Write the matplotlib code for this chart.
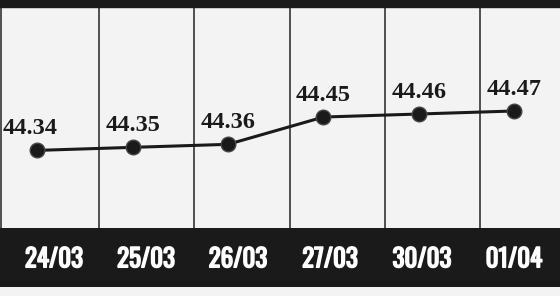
import matplotlib.pyplot as plt
import matplotlib.font_manager as fm
import matplotlib.patheffects as pe
from matplotlib.patches import Rectangle

dates = ['24/03', '25/03', '26/03', '27/03', '30/03', '01/04']
prices = [44.34, 44.35, 44.36, 44.45, 44.46, 44.47]

dark = '#1a1a1a'
panel = '#f3f3f3'


def pick(cands, weight='bold'):
    for c in cands:
        try:
            fm.findfont(fm.FontProperties(family=c, weight=weight), fallback_to_default=False)
            return c
        except ValueError:
            continue
    return 'DejaVu Sans'


serif = pick(['Liberation Serif', 'Tinos', 'Times New Roman', 'TeX Gyre Termes',
              'Nimbus Roman', 'Noto Serif', 'DejaVu Serif'])
narrow = pick(['Oswald', 'Roboto Condensed', 'DejaVu Sans'], weight='normal')

fig = plt.figure(figsize=(5.6, 2.96), dpi=100)
fig.patch.set_facecolor(panel)

# top strip and bottom date band
fig.patches.append(Rectangle((0, 289 / 296), 1, 7 / 296, transform=fig.transFigure,
                             color=dark, zorder=0))
band = fig.add_axes([0, 9 / 296, 1, 59 / 296])
band.set_xlim(-0.587, 5.5)
band.set_ylim(0, 1)
band.axis('off')
band.add_patch(Rectangle((-0.587, 0), 6.087, 1, color=dark))

ax = fig.add_axes([0, 68 / 296, 1, 221 / 296])
ax.set_facecolor(panel)
x = list(range(len(dates)))
ax.set_xlim(-0.39, 5.48)
ax.set_ylim(44.084, 44.813)

for i in x[:-1]:
    ax.axvline(i + 0.645, color='#333333', lw=1.2, zorder=1)
ax.axvline(-0.375, color='#333333', lw=1.2, zorder=1)

ax.plot(x, prices, color=dark, lw=2.2, marker='o', markersize=10.5,
        markerfacecolor=dark, markeredgecolor='#444444', markeredgewidth=1, zorder=3)

for i, v in enumerate(prices):
    dx = -5 if i == 0 else 0
    ax.annotate(f'{v:.2f}', (i, v), xytext=(dx, 8), textcoords='offset points',
                ha='center', va='bottom', fontsize=17.5, fontweight='bold',
                family=serif, color=dark, zorder=4)

for s in ax.spines.values():
    s.set_visible(False)
ax.set_xticks([])
ax.set_yticks([])

for i, d in enumerate(dates):
    band.text(i, 0.47, d, ha='center', va='center', color='white',
              fontsize=18, fontweight='bold', family=narrow, zorder=3,
              path_effects=[pe.withStroke(linewidth=1.1, foreground='white')])

fig.savefig('out.png', dpi=100, facecolor=fig.get_facecolor())
